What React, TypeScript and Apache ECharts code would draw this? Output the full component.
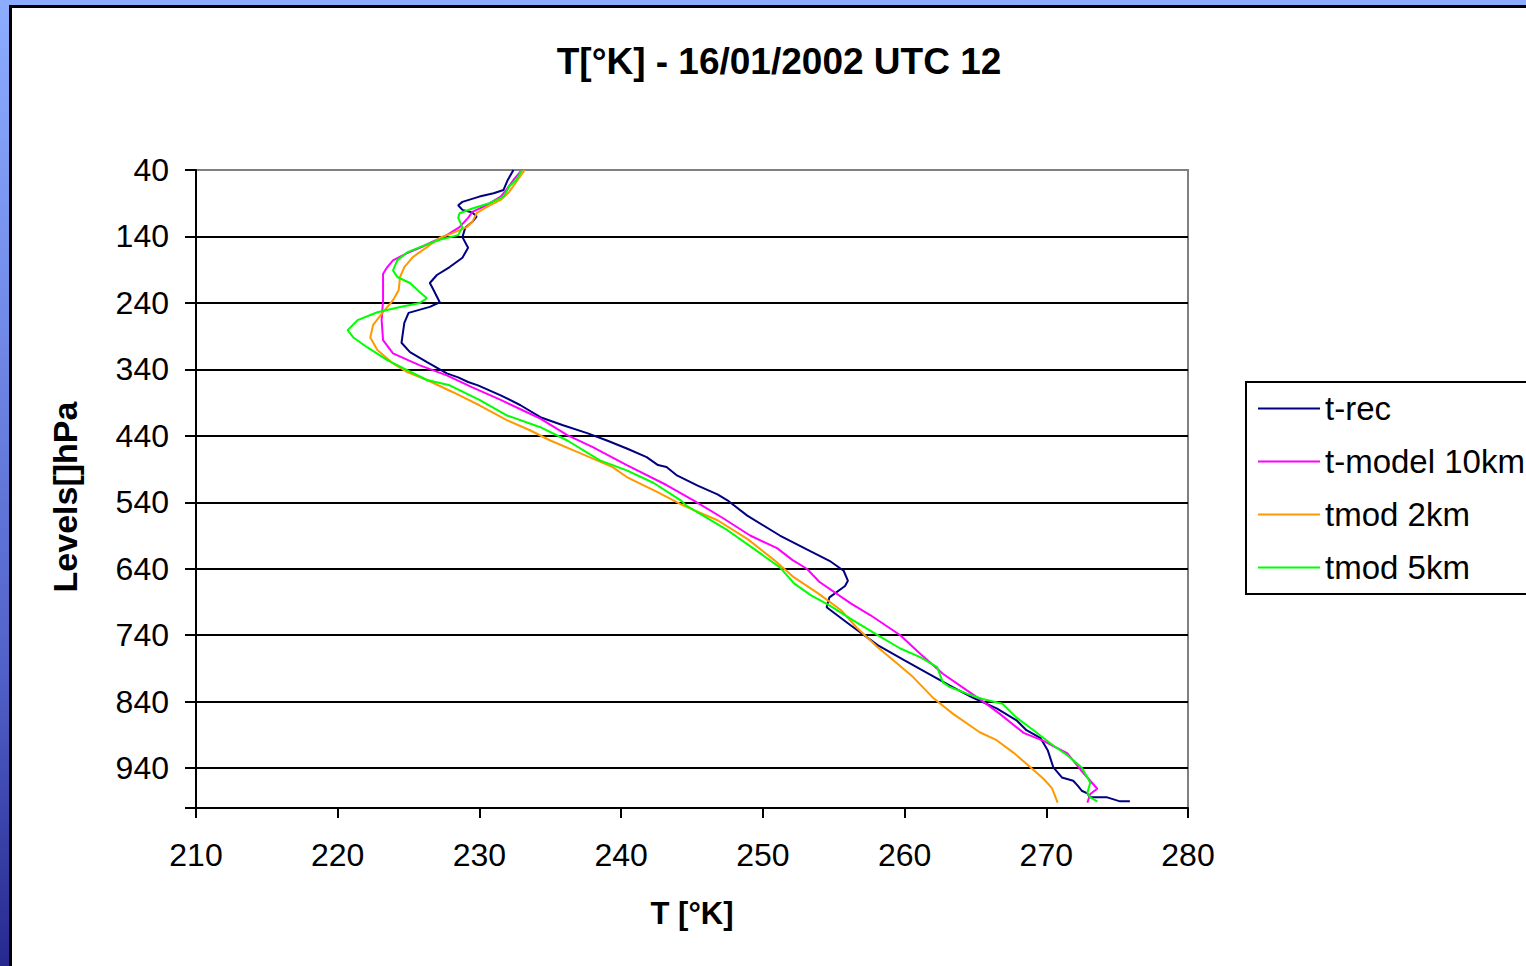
import React, { useEffect, useRef } from "react";
import * as echarts from "echarts";

// Temperature [K] and pressure level [hPa] pairs
const tRecT = [232.4, 232.0, 231.7, 231.0, 230.0, 228.8, 228.5, 228.8, 229.5, 229.8, 229.5, 229.0, 228.8, 229.2, 228.8, 227.9, 227.0, 226.5, 226.7, 227.2, 226.5, 225.0, 224.7, 224.5, 225.1, 226.3, 227.7, 228.5, 229.2, 229.9, 231.5, 232.9, 234.3, 235.9, 237.6, 239.0, 240.4, 241.8, 242.6, 243.2, 243.9, 245.4, 246.8, 247.5, 248.9, 251.2, 253.1, 254.7, 255.7, 256.0, 255.8, 254.7, 254.5, 256.0, 258.1, 260.0, 263.2, 264.8, 266.5, 267.9, 268.6, 269.6, 270.1, 270.5, 271.1, 271.9, 272.2, 272.5, 272.9, 273.1, 274.3, 275.2, 275.9];
const tRecP = [40, 55, 70, 75, 80, 88, 93, 100, 104, 110, 118, 127, 141, 157, 172, 186, 198, 210, 218, 239, 246, 255, 270, 300, 314, 329, 346, 352, 359, 364, 379, 394, 412, 424, 436, 447, 459, 472, 484, 487, 499, 515, 528, 537, 560, 590, 611, 628, 643, 658, 666, 683, 698, 722, 755, 778, 816, 834, 850, 868, 883, 895, 913, 939, 954, 959, 966, 974, 978, 984, 984, 990, 990];

const tModel10T = [233.0, 232.4, 231.9, 231.5, 230.5, 229.5, 229.2, 228.6, 227.7, 226.7, 225.8, 224.9, 223.9, 223.5, 223.2, 223.2, 223.1, 223.2, 223.9, 225.8, 227.7, 229.5, 231.5, 232.9, 234.3, 236.2, 238.0, 240.4, 243.2, 245.1, 247.2, 249.1, 251.0, 252.1, 253.1, 254.0, 256.2, 257.6, 259.7, 261.1, 262.7, 264.4, 265.3, 266.7, 268.4, 269.8, 271.5, 272.6, 273.6, 273.1, 272.9];
const tModel10P = [40, 55, 70, 80, 93, 103, 112, 126, 138, 148, 157, 165, 176, 186, 196, 236, 266, 296, 316, 334, 349, 367, 386, 400, 414, 439, 457, 484, 514, 537, 564, 590, 609, 627, 640, 660, 692, 710, 740, 768, 798, 823, 836, 858, 887, 899, 918, 947, 971, 979, 992];

const tMod2T = [233.2, 232.6, 232.1, 231.5, 230.5, 229.8, 229.5, 229.1, 228.1, 227.2, 226.3, 225.3, 224.7, 224.4, 224.3, 223.9, 223.2, 222.5, 222.3, 222.8, 223.9, 224.9, 226.3, 228.1, 230.0, 231.9, 233.6, 235.0, 237.1, 239.4, 240.4, 242.5, 244.4, 246.8, 248.9, 250.8, 252.2, 253.9, 255.5, 256.6, 258.1, 259.5, 260.6, 262.0, 263.4, 265.3, 266.5, 267.7, 268.9, 269.8, 270.4, 270.6, 270.8];
const tMod2P = [40, 58, 73, 85, 96, 105, 118, 126, 135, 142, 156, 171, 186, 201, 221, 236, 254, 273, 292, 311, 331, 344, 356, 374, 394, 416, 432, 447, 466, 487, 502, 524, 545, 567, 595, 627, 653, 677, 702, 728, 758, 783, 803, 834, 858, 886, 898, 917, 939, 956, 970, 981, 992];

const tMod5T = [233.0, 232.6, 232.1, 231.7, 230.7, 229.5, 228.6, 228.5, 228.8, 228.5, 227.2, 225.8, 224.9, 224.2, 223.9, 224.2, 225.1, 225.8, 226.3, 225.8, 224.4, 222.8, 221.4, 220.7, 221.1, 222.1, 223.5, 224.9, 226.3, 227.9, 230.0, 231.9, 234.3, 236.2, 238.5, 240.4, 242.3, 244.2, 244.6, 247.5, 249.3, 251.2, 252.2, 253.4, 254.7, 256.4, 258.1, 259.7, 261.1, 262.3, 262.7, 263.2, 264.4, 265.5, 266.9, 267.9, 269.1, 270.3, 271.5, 272.5, 272.9, 273.1, 272.9, 273.1, 273.6];
const tMod5P = [40, 55, 65, 80, 90, 98, 105, 112, 126, 138, 145, 156, 164, 176, 191, 201, 210, 224, 233, 240, 246, 254, 266, 281, 292, 307, 326, 341, 356, 364, 386, 409, 427, 447, 477, 492, 511, 537, 545, 582, 609, 638, 662, 680, 695, 718, 740, 760, 773, 788, 811, 818, 828, 836, 843, 864, 883, 903, 921, 939, 954, 962, 977, 984, 990];

const seriesNames = ["t-rec", "t-model 10km", "tmod 2km", "tmod 5km"];
const seriesColors = ["#000080", "#FF00FF", "#FF9900", "#00FF00"];

// Level axis: top level 40 hPa, bottom 1000 hPa, ticks every 100 from 40
const LEVEL_TOP = 40;
const LEVEL_BOTTOM = 1000;
const LEVEL_STEP = 100;
const T_MIN = 210;
const T_MAX = 280;
const T_STEP = 10;

const toPairs = (t: number[], p: number[]) => t.map((v, i) => [v, p[i] - LEVEL_TOP]);

export default function App() {
  const ref = useRef<HTMLDivElement>(null);
  useEffect(() => {
    if (!ref.current) return;
    const chart = echarts.init(ref.current, null, { renderer: "svg" });
    const allData = [
      toPairs(tRecT, tRecP),
      toPairs(tModel10T, tModel10P),
      toPairs(tMod2T, tMod2P),
      toPairs(tMod5T, tMod5P),
    ];
    const font = "'Liberation Sans', Arial, sans-serif";
    const span = LEVEL_BOTTOM - LEVEL_TOP;
    const nLines = Math.floor(span / LEVEL_STEP) + 2;
    const splitColors = Array.from({ length: nLines }, (_, i) => (i === 0 ? "#808080" : "#000000"));
    chart.setOption({
      animation: false,
      backgroundColor: "transparent",
      title: {
        text: "T[°K] - 16/01/2002 UTC 12",
        left: 779,
        top: 43,
        textAlign: "center",
        padding: 0,
        textStyle: { fontFamily: font, fontWeight: "bold", fontSize: 37, color: "#000" },
      },
      legend: {
        orient: "vertical",
        left: 1246,
        top: 382,
        borderColor: "#000",
        borderWidth: 2,
        padding: [10, 40, 10, 12],
        itemWidth: 62,
        itemHeight: 2,
        itemGap: 20,
        icon: "rect",
        data: seriesNames,
        textStyle: { fontFamily: font, fontSize: 33, lineHeight: 32, color: "#000" },
      },
      grid: {
        left: 196,
        top: 170,
        right: 1526 - 1188,
        bottom: 966 - 808,
        show: true,
        borderColor: "#808080",
        borderWidth: 2,
        backgroundColor: "#fff",
      },
      xAxis: {
        type: "value",
        min: T_MIN,
        max: T_MAX,
        interval: T_STEP,
        name: "T [°K]",
        nameLocation: "middle",
        nameGap: 90,
        nameTextStyle: { fontFamily: font, fontWeight: "bold", fontSize: 31, color: "#000" },
        axisLine: { show: true, onZero: false, lineStyle: { color: "#000", width: 2 } },
        axisTick: { show: true, length: 10, lineStyle: { color: "#000", width: 2 } },
        axisLabel: { fontFamily: font, fontSize: 32, color: "#000", margin: 31 },
        splitLine: { show: false },
      },
      yAxis: {
        type: "value",
        inverse: true,
        min: 0,
        max: span,
        interval: LEVEL_STEP,
        name: "Levels[]hPa",
        nameLocation: "middle",
        nameGap: 114,
        nameRotate: 90,
        nameTextStyle: { fontFamily: font, fontWeight: "bold", fontSize: 34, color: "#000", padding: [0, 16, 0, 0] },
        axisLine: { show: true, onZero: false, lineStyle: { color: "#000", width: 2 } },
        axisTick: { show: true, length: 11, lineStyle: { color: "#000", width: 2 } },
        axisLabel: {
          fontFamily: font,
          fontSize: 32,
          color: "#000",
          margin: 27,
          formatter: (v: number) => (v % LEVEL_STEP === 0 ? String(v + LEVEL_TOP) : ""),
        },
        splitLine: { show: true, lineStyle: { color: splitColors, width: 2 } },
      },
      series: seriesNames.map((name, i) => ({
        name,
        type: "line",
        data: allData[i],
        showSymbol: false,
        symbol: "none",
        color: seriesColors[i],
        lineStyle: { color: seriesColors[i], width: 2 },
      })),
    });
    return () => chart.dispose();
  }, []);

  return (
    <div
      style={{
        position: "fixed",
        left: 0,
        top: 0,
        width: 1526,
        height: 966,
        overflow: "hidden",
        background: "linear-gradient(to bottom, #8cadff 0%, #7088e8 35%, #5060c8 70%, #262890 100%)",
      }}
    >
      <div
        style={{
          position: "absolute",
          left: 9,
          top: 5,
          width: 1600,
          height: 1000,
          background: "#fff",
          borderLeft: "3px solid #000",
          borderTop: "3px solid #000",
        }}
      />
      <div ref={ref} style={{ position: "absolute", left: 0, top: 0, width: 1526, height: 966 }} />
    </div>
  );
}
